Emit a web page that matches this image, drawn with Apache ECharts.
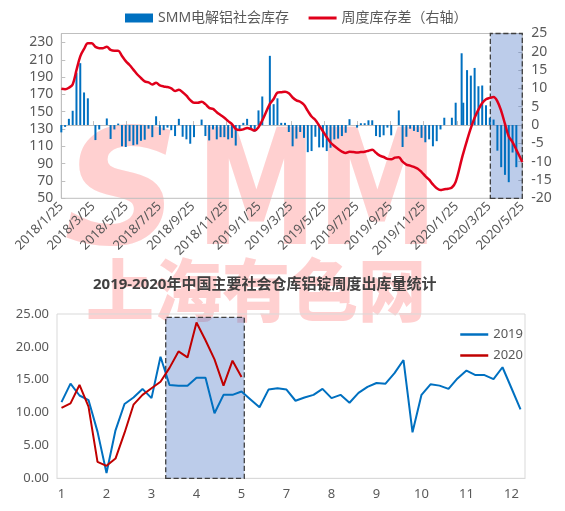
<!DOCTYPE html>
<html><head><meta charset="utf-8">
<script src="https://cdn.jsdelivr.net/npm/echarts@6/dist/echarts.min.js"></script>
<style>html,body{margin:0;padding:0;background:#fff}#c{width:565px;height:511px}</style>
</head><body><div id="c"></div>
<script>
// ---------- top chart data ----------
const weekDates = [
'2018/1/25','2018/2/1','2018/2/8','2018/2/15','2018/2/22','2018/3/1','2018/3/8','2018/3/15','2018/3/22','2018/3/29',
'2018/4/5','2018/4/12','2018/4/19','2018/4/26','2018/5/3','2018/5/10','2018/5/17','2018/5/24','2018/5/31','2018/6/7',
'2018/6/14','2018/6/21','2018/6/28','2018/7/5','2018/7/12','2018/7/19','2018/7/26','2018/8/2','2018/8/9','2018/8/16',
'2018/8/23','2018/8/30','2018/9/6','2018/9/13','2018/9/20','2018/9/27','2018/10/4','2018/10/11','2018/10/18','2018/10/25',
'2018/11/1','2018/11/8','2018/11/15','2018/11/22','2018/11/29','2018/12/6','2018/12/13','2018/12/20','2018/12/27','2019/1/3',
'2019/1/10','2019/1/17','2019/1/24','2019/1/31','2019/2/7','2019/2/14','2019/2/21','2019/2/28','2019/3/7','2019/3/14',
'2019/3/21','2019/3/28','2019/4/4','2019/4/11','2019/4/18','2019/4/25','2019/5/2','2019/5/9','2019/5/16','2019/5/23',
'2019/5/30','2019/6/6','2019/6/13','2019/6/20','2019/6/27','2019/7/4','2019/7/11','2019/7/18','2019/7/25','2019/8/1',
'2019/8/8','2019/8/15','2019/8/22','2019/8/29','2019/9/5','2019/9/12','2019/9/19','2019/9/26','2019/10/3','2019/10/10',
'2019/10/17','2019/10/24','2019/10/31','2019/11/7','2019/11/14','2019/11/21','2019/11/28','2019/12/5','2019/12/12','2019/12/19',
'2019/12/26','2020/1/2','2020/1/9','2020/1/16','2020/1/23','2020/2/3','2020/2/6','2020/2/13','2020/2/20','2020/2/27',
'2020/3/5','2020/3/12','2020/3/19','2020/3/26','2020/4/2','2020/4/9','2020/4/16','2020/4/23','2020/4/30','2020/5/7',
'2020/5/14','2020/5/25'];
// blue bars (drawn against right axis)
const stockChange = [
-2,-0.5,1.7,3.9,14.3,16.9,8.9,7.3,0,-4.1,
-1.2,0,1.8,-3.8,-1.2,0.4,-5.8,-6.0,-4.4,-5.5,
-5.3,-4.3,-4.0,-1.0,-3.3,2.4,-2.7,-1.4,-0.7,-1.4,
-3.0,1.7,-3.2,-3.9,-5.1,-3.3,0,1.5,-3.0,-4.2,
-1.2,-3.9,-3.3,-3.3,-3.9,-3.5,-5.6,-1.2,0.6,1.7,
-1.2,-1.8,4.0,7.8,null,18.9,5.7,7.3,0.6,0.6,
-1.9,-5.8,-3.7,-1.9,-3.5,-7.4,-7.1,-3.2,-6.1,-6.1,
-7.1,-6.2,-3.9,-3.7,-3.0,-2.1,1.6,0,-0.7,0.5,
0.5,1.3,1.3,-3.0,-3.3,-2.8,-0.7,-2.8,0,4.0,
-6.0,-3.2,-1.0,-1.6,-1.9,-3.5,-4.7,-3.9,-5.8,-4.4,
-1.2,2.0,0,2.0,6.1,19.6,6.1,15.0,13.5,15.6,
10.6,10.8,5.4,2.0,1.5,-7.0,-11.5,-13.6,-15.6,-7.5,
-11.5,null];
// red line (drawn against left axis)
const stockLevel = [
176.5,176,177.7,181.6,198,214,222.5,229,229,225,
223.5,223.5,225,221.5,220.5,220.5,214.5,208.5,204,198.7,
193.3,189,185,184,181.5,183.5,180.5,179.2,178.5,177,
174,175.5,172.5,168.5,163.5,160.5,160.5,161.5,158.8,154.5,
153.3,149.5,146.2,143,139.2,135.7,130.2,129,129.6,131.2,
130,128.2,132.2,140,null,159,164.7,172,172.6,173.2,
171.3,166.5,163.2,161.5,158,151,144.5,140.5,134,127.5,
120.5,114.5,110.5,107,104,102.3,103.8,103.5,103,103.4,
103.8,105,106,102.5,99.3,97.7,95.5,95,97,97.5,
92.3,89,87.8,86.2,84.2,80.3,75.6,71.5,66,61.6,
59.5,60.5,61,62.5,69,95,102,117,131,143,
152.5,160,164.5,166,167,162,151,136,121.5,115,
106,92];
const topTickLabels = ['2018/1/25','2018/3/25','2018/5/25','2018/7/25','2018/9/25','2018/11/25','2019/1/25',
'2019/3/25','2019/5/25','2019/7/25','2019/9/25','2019/11/25','2020/1/25','2020/3/25','2020/5/25'];
const topBox = ['2020/3/27','2020/5/25'];

// ---------- bottom chart data ----------
const weekMonths = [1,1,1,1,2,2,2,2,3,3,3,3,4,4,4,4,4,5,5,5,5,6,6,6,6,7,7,7,7,7,8,8,8,8,9,9,9,9,9,10,10,10,10,11,11,11,11,12,12,12,12,12];
const out2019 = [
11.6,14.4,12.6,11.9,7.1,0.8,7.3,11.3,12.3,13.6,
12.2,18.5,14.2,14.1,14.1,15.3,15.3,9.9,12.7,12.7,
13.2,12.0,10.8,13.5,13.7,13.5,11.8,12.3,12.7,13.6,
12.2,12.7,11.5,13.0,13.9,14.5,14.4,16.0,18.0,7.0,
12.7,14.3,14.1,13.6,15.2,16.4,15.7,15.7,15.1,16.9,
13.7,10.5];
const out2020 = [10.7,11.4,14.2,10.9,2.5,1.9,3.0,6.9,11.2,12.7,13.7,14.7,16.8,19.3,18.4,23.7,21.0,18.1,14.1,17.9,15.4];

// ---------- helpers ----------
const DAY = 86400000;
const toTs = s => { const p = s.split('/').map(Number); return Date.UTC(p[0], p[1]-1, p[2]) / DAY; };
const tickTs = topTickLabels.map(toTs);
const FONT = "'Noto Sans','Noto Sans CJK SC',sans-serif";
const GREY = '#595959';
const PINK = '#FFD0D0';

const chart = echarts.init(document.getElementById('c'), null, {renderer:'canvas'});
chart.setOption({
  animation: false,
  textStyle: {fontFamily: FONT},
  graphic: [
    {type:'text', left: 64, top: 122, z: -10, silent: true,
     style:{text:'S', font:"italic 900 160px 'DejaVu Sans'", fill: PINK}},
    {type:'text', left: 196, top: 122, z: -10, silent: true, scaleX: 0.76,
     style:{text:'MM', font:"900 160px 'DejaVu Sans'", fill: PINK}},
    {type:'text', left: 86, top: 256, z: -10, silent: true,
     style:{text:'上海有色网', font:"900 68px 'Noto Sans CJK SC'", fill: PINK}}
  ],
  title: {text:'2019-2020年中国主要社会仓库铝锭周度出库量统计', left: 88, top: 272,
    textStyle:{fontSize: 15, fontWeight:'bold', color:'#404040', fontFamily: FONT}},
  legend: [
    {top: 6, left: 120, itemWidth: 28, itemHeight: 9, itemGap: 18,
     textStyle:{fontSize: 14, color: GREY},
     data:[{name:'SMM电解铝社会库存', icon:'rect'},
           {name:'周度库存差（右轴）', itemStyle:{opacity: 0}, lineStyle:{width: 3}}]},
    {orient:'vertical', left: 454, top: 323, itemWidth: 28, itemHeight: 10, itemGap: 8,
     textStyle:{fontSize: 13, color: GREY},
     data:[{name:'2019', itemStyle:{opacity: 0}, lineStyle:{width: 2.5}},
           {name:'2020', itemStyle:{opacity: 0}, lineStyle:{width: 2.5}}]}
  ],
  grid: [
    {left: 61.3, right: 42.7, top: 33.5, bottom: 312.7, show: true, borderColor:'#BFBFBF', borderWidth: 1},
    {left: 57, right: 40, top: 314, bottom: 32.7, show: true, borderColor:'#D9D9D9', borderWidth: 1}
  ],
  xAxis: [
    {type:'value', gridIndex: 0, min: tickTs[0], max: tickTs[tickTs.length-1],
     axisLine:{lineStyle:{color:'#BFBFBF'}},
     axisTick:{show: true, inside: true, length: 4, customValues: tickTs, lineStyle:{color:'#BFBFBF'}},
     axisLabel:{customValues: tickTs, rotate: 45, fontSize: 13, color: GREY, margin: 6,
       formatter: v => { const k = tickTs.indexOf(v); return k >= 0 ? topTickLabels[k] : ''; }},
     splitLine:{show:false}},
    {type:'category', gridIndex: 1, data: weekMonths.map(String), boundaryGap: true,
     axisLine:{lineStyle:{color:'#D9D9D9'}}, axisTick:{show:false},
     axisLabel:{interval: 4, fontSize: 13, color: GREY, margin: 9}},
    {type:'value', gridIndex: 1, min: -0.5, max: 51.5, show: false}
  ],
  yAxis: [
    {type:'value', gridIndex: 0, min: 50, max: 240.4, interval: 20,
     axisLine:{show:true, lineStyle:{color:'#BFBFBF'}},
     axisTick:{show:true, inside:true, length:4, lineStyle:{color:'#BFBFBF'}},
     axisLabel:{fontSize: 14, color: GREY, margin: 8, showMaxLabel: false}, splitLine:{show:false}},
    {type:'value', gridIndex: 0, position:'right', min: -20, max: 25, interval: 5,
     axisLine:{show:false},
     axisTick:{show:true, inside:true, length:4, lineStyle:{color:'#BFBFBF'}},
     axisLabel:{fontSize: 14, color: GREY, margin: 9}, splitLine:{show:false}},
    {type:'value', gridIndex: 1, min: 0, max: 25, interval: 5,
     axisLine:{show:false}, axisTick:{show:false},
     axisLabel:{fontSize: 13, color: GREY, margin: 8, formatter: v => v.toFixed(2)}, splitLine:{show:false}}
  ],
  series: [
    {name:'SMM电解铝社会库存', type:'bar', xAxisIndex: 0, yAxisIndex: 1, barWidth: 2, z: 2,
     itemStyle:{color:'#0070C0'},
     data: weekDates.map((d,i) => [toTs(d), stockChange[i]])},
    {name:'周度库存差（右轴）', type:'line', xAxisIndex: 0, yAxisIndex: 0, z: 3,
     symbol:'none', smooth: 0.35, connectNulls: true,
     lineStyle:{color:'#E0001B', width: 2.5}, itemStyle:{color:'#E0001B'},
     data: weekDates.map((d,i) => [toTs(d), stockLevel[i]])},
    {name:'topBox', type:'line', xAxisIndex: 0, yAxisIndex: 1, z: 10, data: [], silent: true,
     markArea:{silent:true, itemStyle:{color:'rgba(68,114,196,0.36)', borderColor:'#404040', borderWidth: 1.3, borderType:'dashed'},
       data:[[{xAxis: toTs(topBox[0]), yAxis: -20.9}, {xAxis: toTs(topBox[1]), yAxis: 25}]]}},
    {name:'2019', type:'line', xAxisIndex: 1, yAxisIndex: 2, symbol:'none', z: 3,
     lineStyle:{color:'#0070C0', width: 2}, itemStyle:{color:'#0070C0'}, data: out2019},
    {name:'2020', type:'line', xAxisIndex: 1, yAxisIndex: 2, symbol:'none', z: 4,
     lineStyle:{color:'#C00000', width: 2}, itemStyle:{color:'#C00000'}, data: out2020},
    {name:'bottomBox', type:'line', xAxisIndex: 2, yAxisIndex: 2, z: 10, data: [], silent: true,
     markArea:{silent:true, itemStyle:{color:'rgba(68,114,196,0.36)', borderColor:'#404040', borderWidth: 1.3, borderType:'dashed'},
       data:[[{xAxis: 11.58, yAxis: 0}, {xAxis: 20.31, yAxis: 24.5}]]}}
  ]
});
</script></body></html>
